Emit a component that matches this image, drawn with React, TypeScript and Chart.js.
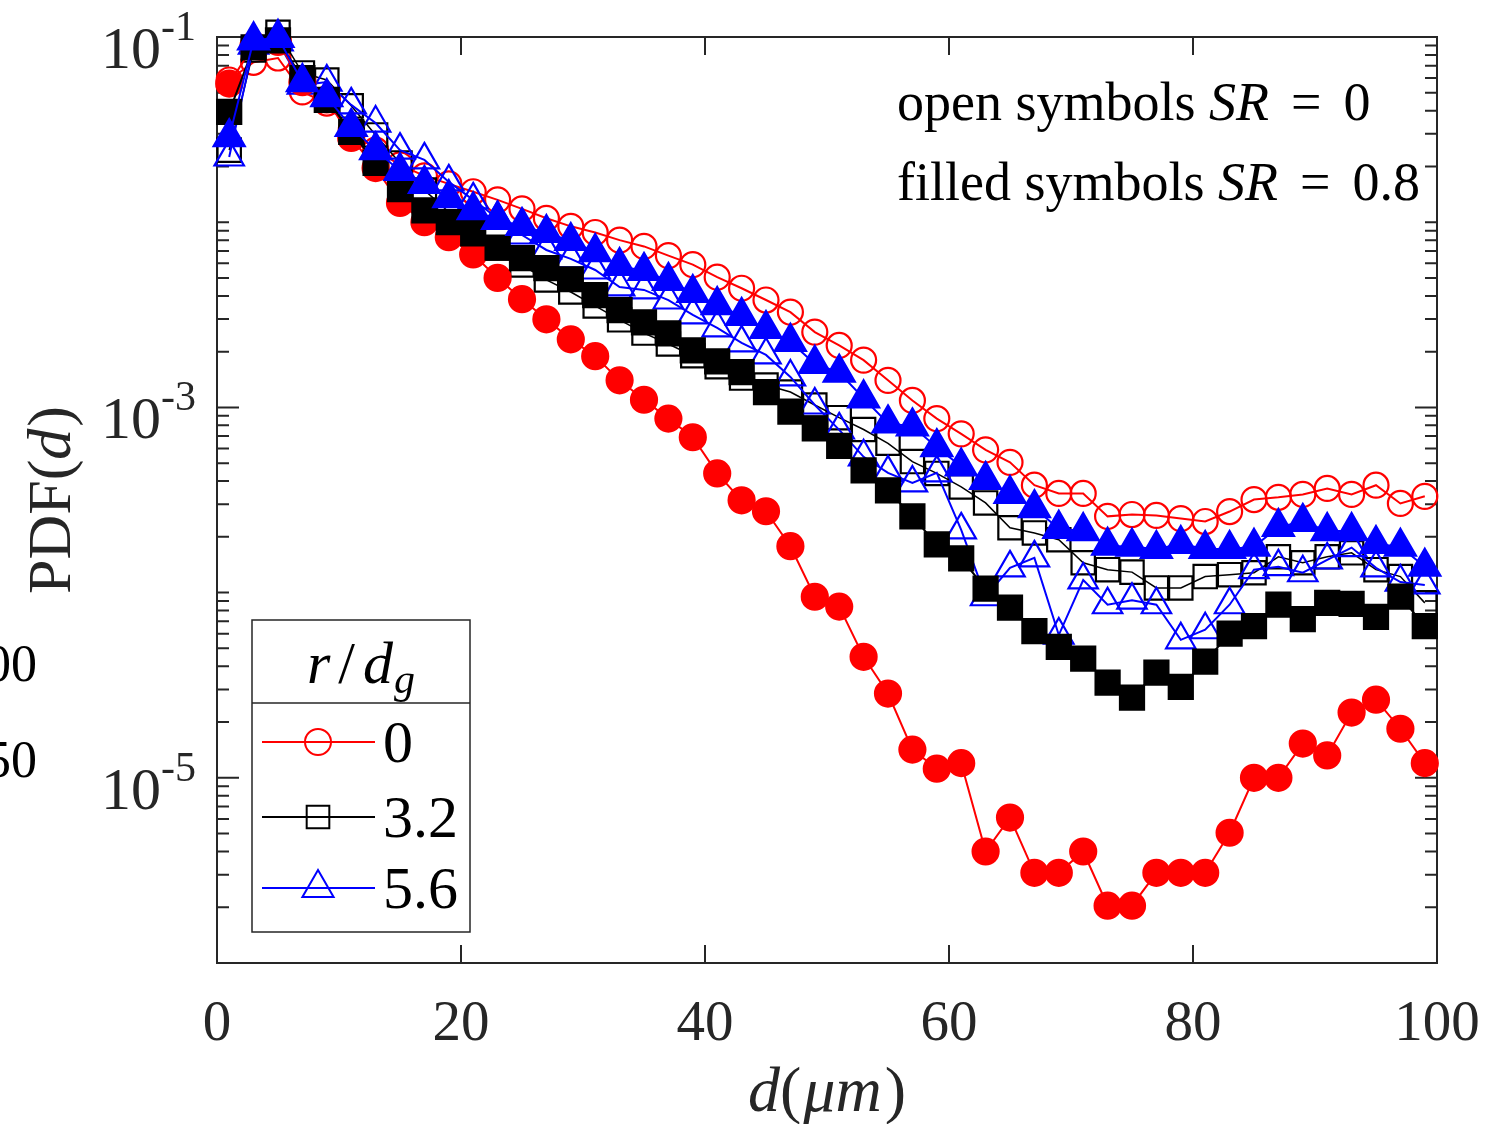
import React, { useEffect, useRef } from "react";
import { Chart, registerables } from "chart.js";

Chart.register(...registerables);

// ---------------- data ----------------
const dValues = [1, 3, 5, 7, 9, 11, 13, 15, 17, 19, 21, 23, 25, 27, 29, 31, 33, 35, 37, 39, 41, 43, 45, 47, 49, 51, 53, 55, 57, 59, 61, 63, 65, 67, 69, 71, 73, 75, 77, 79, 81, 83, 85, 87, 89, 91, 93, 95, 97, 99];

// open symbols, SR = 0
const pdfOpenR0 = [5.86e-2, 7.3e-2, 7.7e-2, 5.05e-2, 4.4e-2, 3.15e-2, 2.45e-2, 2.04e-2, 1.78e-2, 1.61e-2, 1.46e-2, 1.32e-2, 1.18e-2, 1.05e-2, 9.5e-3, 8.8e-3, 8.0e-3, 7.4e-3, 6.6e-3, 5.9e-3, 5.05e-3, 4.4e-3, 3.8e-3, 3.27e-3, 2.55e-3, 2.16e-3, 1.8e-3, 1.4e-3, 1.09e-3, 8.7e-4, 7.2e-4, 5.9e-4, 5.05e-4, 3.8e-4, 3.43e-4, 3.43e-4, 2.58e-4, 2.64e-4, 2.61e-4, 2.51e-4, 2.42e-4, 2.74e-4, 3.18e-4, 3.27e-4, 3.39e-4, 3.65e-4, 3.39e-4, 3.8e-4, 3.03e-4, 3.31e-4];
const pdfOpenR32 = [2.45e-2, 8.5e-2, 1.06e-1, 6.4e-2, 5.86e-2, 4.25e-2, 2.96e-2, 2.09e-2, 1.49e-2, 1.135e-2, 8.86e-3, 7.26e-3, 5.87e-3, 4.88e-3, 4.2e-3, 3.53e-3, 2.97e-3, 2.52e-3, 2.2e-3, 1.9e-3, 1.66e-3, 1.44e-3, 1.32e-3, 1.21e-3, 1.03e-3, 8.8e-4, 7.6e-4, 6.4e-4, 5.1e-4, 4.4e-4, 3.72e-4, 3.05e-4, 2.24e-4, 2.1e-4, 1.93e-4, 1.45e-4, 1.33e-4, 1.29e-4, 1.06e-4, 1.06e-4, 1.22e-4, 1.25e-4, 1.28e-4, 1.56e-4, 1.45e-4, 1.56e-4, 1.64e-4, 1.33e-4, 1.22e-4, 8.8e-5];
const pdfOpenR56 = [2.25e-2, 9.05e-2, 9.4e-2, 5.5e-2, 5.71e-2, 4.3e-2, 3.43e-2, 2.45e-2, 2.17e-2, 1.65e-2, 1.32e-2, 1.05e-2, 8.53e-3, 7.08e-3, 6.34e-3, 5.52e-3, 4.47e-3, 4.31e-3, 3.8e-3, 3.16e-3, 2.69e-3, 2.23e-3, 1.92e-3, 1.46e-3, 1.03e-3, 7.56e-4, 5.41e-4, 4.43e-4, 3.91e-4, 4.43e-4, 2.18e-4, 9.5e-5, 1.36e-4, 1.54e-4, 5.9e-5, 1.17e-4, 8.6e-5, 9.1e-5, 8.6e-5, 5.56e-5, 6.3e-5, 8.6e-5, 1.33e-4, 1.38e-4, 1.28e-4, 1.5e-4, 1.75e-4, 1.36e-4, 1.14e-4, 1.1e-4];

// filled symbols, SR = 0.8
const pdfFilledR0 = [5.6e-2, 9.0e-2, 9.4e-2, 5.7e-2, 4.6e-2, 2.85e-2, 1.96e-2, 1.27e-2, 1.0e-2, 8.3e-3, 6.7e-3, 5.0e-3, 3.84e-3, 2.99e-3, 2.33e-3, 1.89e-3, 1.4e-3, 1.1e-3, 8.7e-4, 6.9e-4, 4.4e-4, 3.15e-4, 2.75e-4, 1.78e-4, 9.5e-5, 8.4e-5, 4.5e-5, 2.85e-5, 1.42e-5, 1.12e-5, 1.2e-5, 4.0e-6, 6.1e-6, 3.07e-6, 3.07e-6, 4.0e-6, 2.04e-6, 2.04e-6, 3.07e-6, 3.07e-6, 3.07e-6, 5.05e-6, 1.0e-5, 1.0e-5, 1.53e-5, 1.32e-5, 2.25e-5, 2.64e-5, 1.84e-5, 1.2e-5];
const pdfFilledR32 = [3.94e-2, 8.8e-2, 9.6e-2, 6.0e-2, 4.57e-2, 3.07e-2, 2.09e-2, 1.51e-2, 1.16e-2, 1.0e-2, 8.7e-3, 7.3e-3, 6.4e-3, 5.65e-3, 4.92e-3, 4.04e-3, 3.35e-3, 2.88e-3, 2.51e-3, 2.03e-3, 1.77e-3, 1.55e-3, 1.21e-3, 9.5e-4, 7.7e-4, 6.2e-4, 4.57e-4, 3.56e-4, 2.58e-4, 1.82e-4, 1.53e-4, 1.05e-4, 8.3e-5, 6.2e-5, 5.1e-5, 4.4e-5, 3.27e-5, 2.71e-5, 3.7e-5, 3.1e-5, 4.24e-5, 6.0e-5, 6.6e-5, 8.6e-5, 7.2e-5, 8.8e-5, 8.7e-5, 7.4e-5, 9.5e-5, 6.6e-5];
const pdfFilledR56 = [2.88e-2, 9.6e-2, 9.9e-2, 5.71e-2, 4.74e-2, 3.27e-2, 2.45e-2, 1.89e-2, 1.61e-2, 1.35e-2, 1.16e-2, 1.03e-2, 9.55e-3, 8.75e-3, 7.92e-3, 6.9e-3, 5.8e-3, 5.46e-3, 4.82e-3, 4.15e-3, 3.57e-3, 3.12e-3, 2.65e-3, 2.26e-3, 1.72e-3, 1.54e-3, 1.12e-3, 8.2e-4, 7.9e-4, 6.1e-4, 4.8e-4, 4.06e-4, 3.41e-4, 2.86e-4, 2.21e-4, 2.15e-4, 1.79e-4, 1.77e-4, 1.72e-4, 1.83e-4, 1.72e-4, 1.72e-4, 1.77e-4, 2.26e-4, 2.41e-4, 2.15e-4, 2.15e-4, 1.83e-4, 1.77e-4, 1.38e-4];

// ticks / labels
const xTickValues = [0, 20, 40, 60, 80, 100];
const yLabelExponents = [-1, -3, -5];
const rLabels = ["0", "3.2", "5.6"];
const sideFragments = ["00", "50"];

// ---------------- styling ----------------
const SERIF = '"Liberation Serif", "Times New Roman", serif';
const AXIS = "#262626";
const RED = "#ff0000";
const BLACK = "#000000";
const BLUE = "#0000ff";

type Run = { t: string; italic?: boolean; size: number; dy?: number; gap?: number };

function fontOf(r: Run) {
  return `${r.italic ? "italic " : ""}${r.size}px ${SERIF}`;
}

function drawRuns(ctx: CanvasRenderingContext2D, runs: Run[], x: number, y: number, align: "left" | "center" | "right") {
  ctx.textAlign = "left";
  let total = 0;
  const widths = runs.map((r) => {
    ctx.font = fontOf(r);
    const w = ctx.measureText(r.t).width;
    total += w + (r.gap || 0);
    return w;
  });
  let cx = align === "left" ? x : align === "center" ? x - total / 2 : x - total;
  runs.forEach((r, i) => {
    ctx.font = fontOf(r);
    ctx.fillText(r.t, cx, y + (r.dy || 0));
    cx += widths[i] + (r.gap || 0);
  });
}

function drawMarker(ctx: CanvasRenderingContext2D, style: string, x: number, y: number, r: number, color: string) {
  ctx.save();
  ctx.strokeStyle = color;
  ctx.lineWidth = 2;
  ctx.beginPath();
  if (style === "circle") {
    ctx.arc(x, y, r, 0, Math.PI * 2);
  } else if (style === "rect") {
    const s = r * Math.SQRT1_2;
    ctx.rect(x - s, y - s, 2 * s, 2 * s);
  } else {
    let rad = 0;
    ctx.moveTo(x + Math.sin(rad) * r, y - Math.cos(rad) * r);
    rad += (2 * Math.PI) / 3;
    ctx.lineTo(x + Math.sin(rad) * r, y - Math.cos(rad) * r);
    rad += (2 * Math.PI) / 3;
    ctx.lineTo(x + Math.sin(rad) * r, y - Math.cos(rad) * r);
    ctx.closePath();
  }
  ctx.stroke();
  ctx.restore();
}

const legendItems = [
  { label: rLabels[0], color: RED, style: "circle", r: 13 },
  { label: rLabels[1], color: BLACK, style: "rect", r: 16 },
  { label: rLabels[2], color: BLUE, style: "triangle", r: 18 },
];

const framePlugin = {
  id: "matlabFrame",
  beforeDatasetsDraw(chart: any) {
    const { ctx, chartArea: ca, scales } = chart;
    const xs = scales.x;
    const ys = scales.y;
    ctx.save();
    ctx.strokeStyle = AXIS;
    ctx.lineWidth = 2;
    ctx.strokeRect(ca.left, ca.top, ca.right - ca.left, ca.bottom - ca.top);
    ctx.beginPath();
    for (const t of xTickValues) {
      const px = xs.getPixelForValue(t);
      ctx.moveTo(px, ca.bottom);
      ctx.lineTo(px, ca.bottom - 18);
      ctx.moveTo(px, ca.top);
      ctx.lineTo(px, ca.top + 18);
    }
    for (let k = -6; k <= -1; k++) {
      for (let m = 1; m <= 9; m++) {
        const v = m * Math.pow(10, k);
        if (v > 0.1 * 1.0001 || v < 1e-6 * 0.9999) continue;
        const py = ys.getPixelForValue(v);
        const major = m === 1 && yLabelExponents.includes(k);
        const len = major ? 22 : 12;
        ctx.moveTo(ca.left, py);
        ctx.lineTo(ca.left + len, py);
        ctx.moveTo(ca.right, py);
        ctx.lineTo(ca.right - len, py);
      }
    }
    ctx.stroke();
    ctx.restore();
  },
  afterDraw(chart: any) {
    const { ctx, chartArea: ca, scales } = chart;
    const xs = scales.x;
    const ys = scales.y;
    ctx.save();
    ctx.fillStyle = AXIS;
    ctx.textBaseline = "alphabetic";

    // x tick labels
    for (const t of xTickValues) {
      const px = xs.getPixelForValue(t);
      drawRuns(ctx, [{ t: String(t), size: 57 }], px, ca.bottom + 77, "center");
    }
    // y tick labels 10^k
    for (const k of yLabelExponents) {
      const py = ys.getPixelForValue(Math.pow(10, k));
      ctx.font = `42px ${SERIF}`;
      const supW = ctx.measureText(String(k)).width;
      ctx.font = `60px ${SERIF}`;
      const baseW = ctx.measureText("10").width;
      const right = ca.left - 21;
      ctx.textAlign = "left";
      ctx.fillText("10", right - supW - baseW, py + 31);
      ctx.font = `42px ${SERIF}`;
      ctx.fillText(String(k), right - supW, py + 3);
    }

    // axis titles
    drawRuns(ctx, [
      { t: "d", italic: true, size: 64 },
      { t: "(", size: 64, gap: 2 },
      { t: "\u03bcm", italic: true, size: 64, gap: 3 },
      { t: ")", size: 64 },
    ], (ca.left + ca.right) / 2, ca.bottom + 148, "center");

    ctx.save();
    ctx.translate(70, (ca.top + ca.bottom) / 2);
    ctx.rotate(-Math.PI / 2);
    drawRuns(ctx, [
      { t: "PDF(", size: 62 },
      { t: "d", italic: true, size: 62, gap: 2 },
      { t: ")", size: 62 },
    ], 0, 0, "center");
    ctx.restore();

    // annotations
    ctx.fillStyle = "#000";
    drawRuns(ctx, [
      { t: "open symbols ", size: 54 },
      { t: "SR", italic: true, size: 54, gap: 22 },
      { t: "=", size: 54, gap: 22 },
      { t: "0", size: 54 },
    ], 897, 120, "left");
    drawRuns(ctx, [
      { t: "filled symbols ", size: 54 },
      { t: "SR", italic: true, size: 54, gap: 22 },
      { t: "=", size: 54, gap: 22 },
      { t: "0.8", size: 54 },
    ], 897, 200, "left");

    // legend
    const L = 252, T = 620, R = 470, B = 932, H = 703;
    ctx.fillStyle = "#fff";
    ctx.fillRect(L, T, R - L, B - T);
    ctx.strokeStyle = AXIS;
    ctx.lineWidth = 1.5;
    ctx.strokeRect(L, T, R - L, B - T);
    ctx.beginPath();
    ctx.moveTo(L, H);
    ctx.lineTo(R, H);
    ctx.stroke();
    ctx.fillStyle = "#000";
    drawRuns(ctx, [
      { t: "r", italic: true, size: 60, gap: 8 },
      { t: "/", size: 60, gap: 8 },
      { t: "d", italic: true, size: 60, gap: 1 },
      { t: "g", italic: true, size: 42, dy: 10 },
    ], (L + R) / 2, 683, "center");
    const itemYs = [742, 817, 888];
    legendItems.forEach((it, i) => {
      const y = itemYs[i];
      ctx.strokeStyle = it.color;
      ctx.lineWidth = 2;
      ctx.beginPath();
      ctx.moveTo(262, y);
      ctx.lineTo(375, y);
      ctx.stroke();
      drawMarker(ctx, it.style, 318, y, it.r, it.color);
      ctx.fillStyle = "#000";
      drawRuns(ctx, [{ t: it.label, size: 60 }], 383, y + 20, "left");
    });

    // cut-off fragments of neighbouring panel at the left edge
    ctx.fillStyle = "#000";
    ctx.textAlign = "right";
    ctx.font = `52px ${SERIF}`;
    ctx.fillText(sideFragments[0], 37, 681);
    ctx.fillText(sideFragments[1], 37, 777);
    ctx.restore();
  },
};

export default function App() {
  const ref = useRef<HTMLCanvasElement>(null);
  useEffect(() => {
    const canvas = ref.current;
    if (!canvas) return;
    const mk = (vals: number[], color: string, style: string, filled: boolean, radius: number, lw: number) => ({
      data: dValues.map((d, i) => ({ x: d, y: vals[i] })),
      borderColor: color,
      backgroundColor: color,
      borderWidth: lw,
      pointStyle: style,
      pointRadius: radius,
      pointHoverRadius: radius,
      pointBorderColor: color,
      pointBackgroundColor: filled ? color : "rgba(0,0,0,0)",
      pointBorderWidth: 2.2,
      tension: 0,
      fill: false,
      clip: false,
    });
    const chart = new Chart(canvas, {
      type: "line",
      data: {
        datasets: [
          mk(pdfFilledR56, BLUE, "triangle", true, 18, 2),
          mk(pdfFilledR32, BLACK, "rect", true, 17, 2),
          mk(pdfFilledR0, RED, "circle", true, 13, 2),
          mk(pdfOpenR56, BLUE, "triangle", false, 17, 2),
          mk(pdfOpenR32, BLACK, "rect", false, 16.5, 1.5),
          mk(pdfOpenR0, RED, "circle", false, 12.5, 2),
        ] as any,
      },
      options: {
        animation: false,
        responsive: false,
        devicePixelRatio: 1,
        events: [],
        layout: { padding: { left: 0, right: 70, top: 37, bottom: 0 } },
        plugins: { legend: { display: false }, tooltip: { enabled: false } },
        scales: {
          x: {
            type: "linear",
            min: 0,
            max: 100,
            ticks: { display: false, stepSize: 20 },
            grid: { display: false },
            border: { display: false },
            afterFit: (s: any) => {
              s.height = 161;
            },
          },
          y: {
            type: "logarithmic",
            min: 1e-6,
            max: 1e-1,
            ticks: { display: false },
            grid: { display: false },
            border: { display: false },
            afterFit: (s: any) => {
              s.width = 217;
            },
          },
        },
      } as any,
      plugins: [framePlugin],
    });
    return () => chart.destroy();
  }, []);
  return (
    <div style={{ position: "absolute", left: 0, top: 0, width: 1507, height: 1124, background: "#fff" }}>
      <canvas ref={ref} width={1507} height={1124} style={{ display: "block", width: 1507, height: 1124 }} />
    </div>
  );
}
